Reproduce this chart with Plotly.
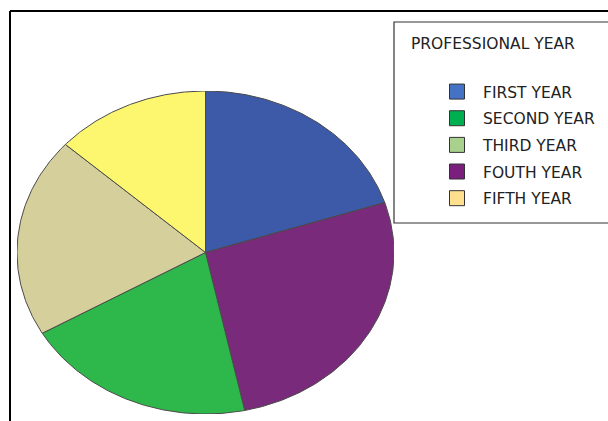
import numpy as np
import plotly.graph_objects as go

# ---- data ----
legend_labels = ["FIRST YEAR", "SECOND YEAR", "THIRD YEAR", "FOUTH YEAR", "FIFTH YEAR"]
legend_colors = ["#4472c4", "#00b050", "#a9d18e", "#7b1f7f", "#ffe08f"]
# slice order clockwise from 12 o'clock, as drawn in the reference
slice_labels = ["FIRST YEAR", "FOUTH YEAR", "SECOND YEAR", "THIRD YEAR", "FIFTH YEAR"]
slice_values = [15, 20, 15, 15, 10]
slice_colors = ["#3d5aa9", "#7a2a7b", "#2eb84b", "#d4cf9b", "#fdf66f"]
legend_title = "PROFESSIONAL YEAR"

W, H = 608, 421
# ellipse box in pixels (left, right, top, bottom)
PL, PR, PT, PB = 17, 394, 91, 414
FONT = "DejaVu Sans"
FS = 15.5

fig = go.Figure()

total = float(sum(slice_values))
start = 90.0
for lab, val, col in zip(slice_labels, slice_values, slice_colors):
    span = 360.0 * val / total
    ang = np.radians(np.linspace(start, start - span, 120))
    xs = np.concatenate([[0.0], np.cos(ang), [0.0]])
    ys = np.concatenate([[0.0], np.sin(ang), [0.0]])
    fig.add_trace(go.Scatter(
        x=xs, y=ys, mode="lines", fill="toself", fillcolor=col,
        line=dict(color="#4a4a4a", width=1), showlegend=False,
        hoverinfo="text", text=f"{lab}: {val}",
    ))
    start -= span

for i, (lab, col) in enumerate(zip(legend_labels, legend_colors)):
    fig.add_trace(go.Scatter(
        x=[None], y=[None], mode="markers", name=lab,
        marker=dict(symbol="square", size=15, color=col,
                    line=dict(color="#333333", width=1)),
        legendgroup=f"g{i}",
    ))

fig.update_layout(
    width=W, height=H,
    margin=dict(l=0, r=0, t=0, b=0),
    paper_bgcolor="white", plot_bgcolor="white",
    xaxis=dict(range=[-1, 1], domain=[PL / W, PR / W], visible=False, fixedrange=True),
    yaxis=dict(range=[-1, 1], domain=[1 - PB / H, 1 - PT / H], visible=False, fixedrange=True),
    showlegend=True,
    legend=dict(
        x=(431) / W, xanchor="left", y=1 - 75 / H, yanchor="top",
        bgcolor="rgba(0,0,0,0)", borderwidth=0,
        font=dict(family=FONT, size=FS, color="#222222"),
        itemwidth=42, tracegroupgap=3.5, traceorder="grouped",
    ),
    shapes=[
        dict(type="line", xref="paper", yref="paper", x0=10 / W, x1=1.02, y0=1 - 11 / H, y1=1 - 11 / H,
             line=dict(color="black", width=2)),
        dict(type="line", xref="paper", yref="paper", x0=10 / W, x1=10 / W, y0=1 - 11 / H, y1=-0.02,
             line=dict(color="black", width=2)),
        dict(type="rect", xref="paper", yref="paper", x0=394 / W, x1=1.05, y0=1 - 223 / H, y1=1 - 22 / H,
             line=dict(color="#333333", width=1.2), fillcolor="rgba(0,0,0,0)"),
    ],
    annotations=[
        dict(text=legend_title, xref="paper", yref="paper", x=409 / W, y=1 - 44 / H,
             xanchor="left", yanchor="middle", showarrow=False,
             font=dict(family=FONT, size=FS, color="#222222")),
    ],
)

fig.write_html("out.html")
